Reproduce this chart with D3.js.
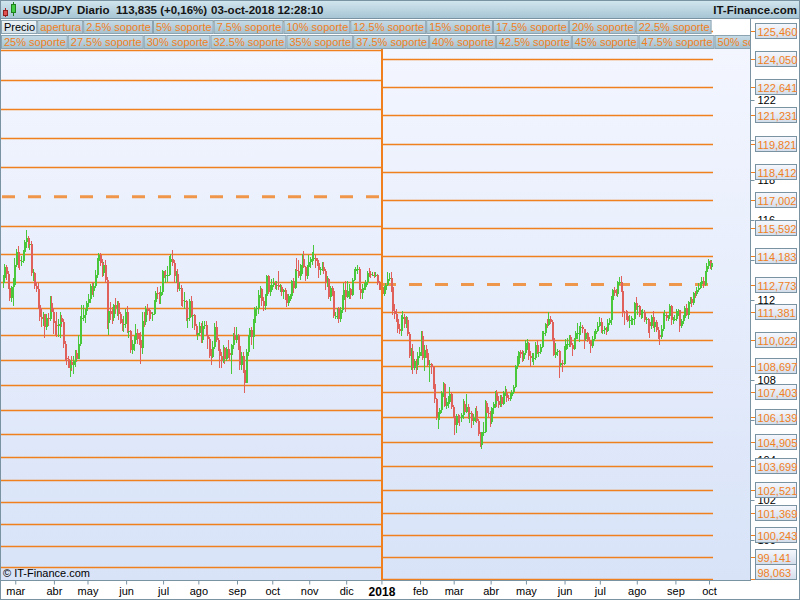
<!DOCTYPE html>
<html><head><meta charset="utf-8">
<script src="https://cdn.jsdelivr.net/npm/d3@7"></script>
<style>
html,body{margin:0;padding:0;background:#fff;}
svg{display:block;font-family:"Liberation Sans",Arial,sans-serif;}
</style></head><body>
<svg id="chart" width="800" height="600"></svg>
<script>
// ---------------- DATA ----------------
const firstDay = [2017, 1, 20];   // 20 feb 2017 (weekdays only)
const lastDay  = [2018, 9, 3];    // 03 oct 2018
const monthNames = ["ene","feb","mar","abr","may","jun","jul","ago","sep","oct","nov","dic"];

const opens = [
112.85,113.10,113.65,113.30,112.60, 112.10,112.65,112.75,113.75,114.40, 114.00,113.95,113.95,114.40,114.90,
115.10,114.75,114.80,113.35,113.35, 112.70,112.55,111.75,111.15,111.05, 111.30,110.65,111.10,111.05,111.85,
111.40,110.85,110.75,110.70,110.80, 111.10,110.90,109.80,109.10,109.05, 108.60,108.90,108.75,108.95,109.35,
109.05,109.80,111.05,111.10,111.25, 111.45,111.85,112.05,112.70,112.45, 112.70,113.25,113.95,114.25,113.85,
113.35,113.75,113.00,110.85,111.45, 111.30,111.10,111.75,111.60,111.85, 111.30,110.85,110.80,110.80,111.40,
110.40,110.45,109.50,109.80,110.00, 110.35,110.05,110.00,109.60,110.95, 110.90,111.55,111.45,111.40,111.30,
111.30,111.90,112.35,112.30,112.20, 112.40,113.45,113.25,113.25,113.25, 113.90,114.05,113.85,113.20,113.30,
112.55,112.60,112.00,111.95,111.95, 111.10,111.10,111.95,111.25,111.25, 110.70,110.25,110.35,110.70,110.00,
110.70,110.75,110.25,110.05,109.20, 109.15,109.65,110.65,110.00,109.55, 109.20,108.95,109.60,109.05,109.55,
109.35,109.25,109.75,110.25,110.00, 110.25,109.70,108.75,109.20,108.50, 107.85,109.40,110.15,110.50,110.15,
110.85,111.55,111.60,112.25,112.55, 111.95,111.70,112.20,113.20,112.40, 112.50,112.75,112.85,112.75,112.75,
112.65,112.65,112.40,112.50,112.30, 111.85,112.20,112.20,112.95,112.60, 113.50,113.45,113.20,113.75,114.05,
113.65,113.20,113.65,113.90,114.05, 114.05,114.10,113.95,113.85,113.50, 113.55,113.65,113.45,112.90,113.05,
112.15,112.60,112.45,111.20,111.20, 111.55,111.05,111.50,112.00,112.50, 112.15,112.45,112.55,112.25,113.00,
113.45,113.55,113.55,112.55,112.35, 112.60,112.65,112.90,113.35,113.30, 113.25,113.25,113.20,113.25,112.85,
112.70,112.65,112.30,112.50,112.75, 113.05,113.10,112.65,111.45,111.30, 111.05,110.55,110.45,111.05,111.15,
110.80,111.00,110.30,109.20,109.45, 108.60,108.95,108.75,109.20,109.40, 110.20,109.10,109.50,109.35,108.75,
108.80,108.65,107.80,107.05,106.15, 106.30,106.50,107.35,107.80,106.70, 106.90,106.90,107.30,106.65,106.20,
105.75,106.20,106.15,106.10,106.25, 106.80,106.40,106.65,106.30,106.35, 105.95,106.10,106.45,105.95,105.30,
104.75,105.40,105.40,106.85,106.35, 106.30,105.90,106.60,106.80,107.35, 106.95,106.75,107.15,106.80,107.35,
107.35,107.10,107.05,107.20,107.40, 107.65,108.70,108.80,109.40,109.30, 109.05,109.35,109.85,109.85,109.20,
109.10,109.10,109.10,109.75,109.40, 109.40,109.65,110.35,110.35,110.80, 110.75,111.05,110.90,110.10,109.25,
109.40,109.45,108.75,108.85,108.80, 109.50,109.80,109.80,110.15,109.75, 109.55,110.05,110.35,110.35,110.60,
110.65,110.55,110.05,110.35,110.00, 109.95,109.70,110.05,110.30,110.45, 110.70,110.90,110.50,110.50,110.60,
110.45,110.85,111.00,112.00,112.50, 112.35,112.30,112.90,112.90,112.45, 111.40,111.35,111.20,110.95,111.00,
111.05,111.05,111.85,111.70,111.70, 111.25,111.40,111.40,111.00,111.05, 110.90,110.70,111.15,110.65,110.90,
110.50,110.25,110.15,110.55,111.25, 111.25,111.10,111.20,111.70,111.00, 111.05,111.05,111.45,111.50,110.70,
110.95,111.10,111.60,111.25,111.90, 112.05,111.85,112.35,112.30,112.50, 112.60,112.80,112.95,112.75,113.40,
113.70,113.95,113.65];

const highs = [
113.25,113.80,113.75,113.45,112.75, 112.70,113.10,114.10,114.55,114.70, 114.20,114.20,114.50,115.00,115.50,
115.20,115.05,114.95,113.55,113.40, 112.90,112.85,111.85,111.60,111.40, 111.30,111.30,111.35,112.20,112.20,
111.60,110.95,111.40,111.05,111.40, 111.25,111.05,109.95,109.40,109.20, 109.00,109.20,109.20,109.50,109.50,
110.25,111.20,111.75,111.75,111.55, 111.95,112.30,112.80,112.90,112.85, 113.50,114.10,114.35,114.35,114.05,
113.90,114.00,113.15,111.70,111.90, 111.65,111.80,112.10,111.95,111.95, 111.40,111.05,111.20,111.55,111.70,
110.60,110.50,110.00,110.20,110.80, 110.55,110.35,110.40,111.40,111.40, 111.70,111.80,111.60,111.50,111.40,
112.00,112.45,112.65,112.40,112.70, 113.50,113.45,113.50,113.70,114.20, 114.30,114.50,114.00,113.45,113.55,
112.90,112.75,112.35,112.40,112.00, 111.45,112.05,112.20,111.60,111.30, 110.80,110.70,110.90,110.85,110.95,
110.95,110.95,110.30,110.15,109.55, 109.95,110.85,110.95,110.10,109.60, 109.40,109.75,109.65,109.65,110.00,
109.55,109.80,110.35,110.65,110.65, 110.30,109.85,109.40,109.40,108.55, 109.55,110.25,110.60,110.65,111.05,
111.65,111.70,112.50,112.70,112.60, 112.15,112.30,113.25,113.25,112.75, 113.05,113.10,112.95,112.95,113.45,
112.80,112.75,112.55,112.60,112.35, 112.30,112.30,113.00,113.10,113.55, 114.10,114.00,113.80,114.30,114.45,
113.70,113.75,114.25,114.15,114.40, 114.75,114.25,114.10,114.00,113.65, 113.90,113.90,113.55,113.20,113.10,
112.70,112.70,112.55,111.40,111.60, 111.65,111.65,112.25,112.85,112.95, 112.95,112.80,112.60,113.10,113.55,
113.65,113.75,113.65,112.80,112.80, 112.85,113.00,113.45,113.60,113.45, 113.40,113.40,113.40,113.30,112.95,
112.75,112.70,112.70,112.85,113.40, 113.35,113.40,112.75,111.80,111.55, 111.20,110.80,111.25,111.45,111.30,
111.20,111.15,110.40,109.60,109.80, 109.05,109.05,109.40,109.65,110.45, 110.45,109.75,109.75,109.55,109.00,
108.85,108.70,107.90,107.10,106.40, 106.60,107.45,107.90,107.85,107.10, 107.20,107.65,107.40,106.75,106.25,
106.30,106.30,106.25,106.35,107.05, 106.95,107.30,106.80,106.45,106.45, 106.30,106.60,106.70,106.05,105.40,
105.40,105.90,107.00,106.95,106.65, 106.45,106.65,106.90,107.45,107.50, 107.20,107.25,107.25,107.45,107.70,
107.55,107.25,107.35,107.50,107.75, 108.75,109.20,109.45,109.50,109.50, 109.45,110.00,110.05,109.90,109.45,
109.35,109.35,109.90,110.00,109.55, 109.80,110.45,110.45,110.85,111.05, 111.40,111.20,111.00,110.20,109.85,
109.55,109.50,109.20,109.00,109.70, 110.05,110.10,110.25,110.25,109.85, 110.10,110.45,110.85,110.70,110.90,
110.75,110.55,110.45,110.40,110.15, 110.00,110.20,110.45,110.55,110.90, 111.15,111.10,110.65,110.70,110.65,
111.05,111.10,112.20,112.55,112.65, 112.55,112.95,113.15,113.20,112.60, 111.45,111.50,111.45,111.25,111.20,
111.10,111.90,112.15,111.80,111.75, 111.50,111.55,111.50,111.15,111.10, 110.95,111.25,111.45,111.00,111.00,
110.65,110.45,110.75,111.35,111.50, 111.35,111.25,111.80,111.75,111.15, 111.25,111.55,111.55,111.50,111.05,
111.25,111.70,111.80,111.95,112.15, 112.15,112.40,112.45,112.65,112.85, 112.90,113.15,113.15,113.45,113.85,
114.05,114.00,114.00];

const lows = [
112.60,112.95,113.00,112.55,111.95, 111.90,111.70,112.70,113.65,113.60, 113.50,113.70,113.85,114.30,114.60,
114.60,114.50,113.20,112.95,112.55, 112.40,111.55,110.95,110.65,110.70, 110.10,110.50,110.70,110.95,111.20,
110.30,110.25,110.15,110.15,110.10, 110.65,109.60,108.95,108.75,108.60, 108.15,108.45,108.30,108.65,108.90,
109.05,109.70,110.90,110.95,110.85, 111.25,111.65,111.85,112.25,112.15, 112.60,113.10,113.60,113.70,113.15,
113.20,112.85,110.55,110.25,111.00, 110.80,110.95,111.30,111.20,111.00, 110.80,110.45,110.40,110.60,110.35,
110.10,109.35,109.30,109.45,109.85, 109.80,109.75,108.80,109.30,110.65, 110.75,111.25,110.95,111.05,110.95,
111.25,111.45,112.05,111.80,111.80, 112.25,113.10,112.85,112.90,113.20, 113.80,113.70,112.85,112.85,112.40,
112.45,111.70,111.65,111.55,110.95, 110.60,110.95,111.15,110.60,110.50, 110.25,110.00,110.20,109.85,109.85,
110.55,110.20,109.55,109.10,108.75, 109.10,109.55,109.90,109.45,108.60, 108.60,108.85,108.80,108.95,109.10,
109.00,108.30,109.55,109.90,109.85, 109.50,108.50,108.50,108.35,107.35, 107.85,109.20,109.80,109.75,109.55,
110.75,111.20,111.30,112.10,111.70, 111.45,111.50,112.15,112.30,112.20, 112.45,112.65,112.55,112.50,112.50,
112.40,112.20,112.05,112.00,111.65, 111.70,111.95,112.05,112.35,112.55, 113.35,113.10,113.00,113.30,113.60,
112.95,113.05,113.55,113.60,113.75, 113.95,113.60,113.70,113.10,113.25, 113.45,113.30,112.50,112.65,112.05,
111.95,112.20,111.10,111.05,111.05, 110.85,110.90,111.35,111.95,111.40, 112.10,112.05,112.05,112.20,112.95,
113.30,113.30,112.50,112.05,112.05, 112.50,112.50,112.75,113.15,113.10, 113.20,113.10,113.15,112.75,112.50,
112.50,112.05,112.20,112.35,112.70, 112.95,112.40,111.25,111.05,110.90, 110.35,110.30,110.20,110.85,110.60,
110.60,110.20,109.10,108.50,108.30, 108.50,108.30,108.50,109.10,109.20, 109.00,108.45,109.10,108.70,107.90,
108.30,107.55,106.85,106.00,105.55, 106.00,106.35,107.15,106.65,106.55, 106.60,106.80,106.55,106.10,105.25,
105.35,105.85,105.70,105.90,106.05, 106.30,106.35,106.05,105.85,105.60, 105.75,105.90,105.85,105.20,104.65,
104.55,105.20,105.35,106.25,106.10, 105.65,105.80,106.30,106.60,106.65, 106.60,106.65,106.65,106.75,107.20,
106.90,106.95,106.95,107.15,107.30, 107.60,108.55,108.70,109.10,108.90, 108.95,109.25,109.50,109.00,108.65,
108.90,108.75,109.00,109.30,109.15, 109.30,109.60,109.95,110.20,110.60, 110.70,110.80,109.95,109.20,109.10,
109.20,108.10,108.65,108.40,108.75, 109.45,109.55,109.65,109.65,109.20, 109.50,109.95,110.05,109.90,110.25,
110.35,109.55,109.95,109.90,109.80, 109.35,109.60,109.95,110.20,110.40, 110.65,110.35,110.30,110.30,110.25,
110.40,110.75,110.75,111.90,112.20, 112.20,112.15,112.75,112.40,111.15, 110.75,111.00,110.90,110.60,110.75,
110.75,110.75,111.50,111.25,111.15, 111.05,111.10,110.90,110.80,110.35, 110.10,110.55,110.60,110.40,110.40,
110.05,109.75,110.05,110.45,111.10, 110.95,110.95,111.05,110.75,110.80, 110.95,110.95,111.20,110.40,110.60,
110.80,111.00,111.20,111.05,111.80, 111.65,111.75,112.10,112.20,112.40, 112.55,112.70,112.60,112.70,113.30,
113.55,113.55,113.50];

const closes = [
113.10,113.65,113.30,112.60,112.10, 112.65,112.75,113.75,114.40,114.00, 113.95,113.95,114.40,114.90,115.10,
114.75,114.80,113.35,113.35,112.70, 112.55,111.75,111.15,111.05,111.30, 110.65,111.10,111.05,111.85,111.40,
110.85,110.75,110.70,110.80,111.10, 110.90,109.80,109.10,109.05,108.60, 108.90,108.75,108.95,109.35,109.05,
109.80,111.05,111.10,111.25,111.45, 111.85,112.05,112.70,112.45,112.70, 113.25,113.95,114.25,113.85,113.35,
113.75,113.00,110.85,111.45,111.30, 111.10,111.75,111.60,111.85,111.30, 110.85,110.80,110.80,111.40,110.40,
110.45,109.50,109.80,110.00,110.35, 110.05,110.00,109.60,110.95,110.90, 111.55,111.45,111.40,111.30,111.30,
111.90,112.35,112.30,112.20,112.40, 113.45,113.25,113.25,113.25,113.90, 114.05,113.85,113.20,113.30,112.55,
112.60,112.00,111.95,111.95,111.10, 111.10,111.95,111.25,111.25,110.70, 110.25,110.35,110.70,110.00,110.70,
110.75,110.25,110.05,109.20,109.15, 109.65,110.65,110.00,109.55,109.20, 108.95,109.60,109.05,109.55,109.35,
109.25,109.75,110.25,110.00,110.25, 109.70,108.75,109.20,108.50,107.85, 109.40,110.15,110.50,110.15,110.85,
111.55,111.60,112.25,112.55,111.95, 111.70,112.20,113.20,112.40,112.50, 112.75,112.85,112.75,112.75,112.65,
112.65,112.40,112.50,112.30,111.85, 112.20,112.20,112.95,112.60,113.50, 113.45,113.20,113.75,114.05,113.65,
113.20,113.65,113.90,114.05,114.05, 114.10,113.95,113.85,113.50,113.55, 113.65,113.45,112.90,113.05,112.15,
112.60,112.45,111.20,111.20,111.55, 111.05,111.50,112.00,112.50,112.15, 112.45,112.55,112.25,113.00,113.45,
113.55,113.55,112.55,112.35,112.60, 112.65,112.90,113.35,113.30,113.25, 113.25,113.20,113.25,112.85,112.70,
112.65,112.30,112.50,112.75,113.05, 113.10,112.65,111.45,111.30,111.05, 110.55,110.45,111.05,111.15,110.80,
111.00,110.30,109.20,109.45,108.60, 108.95,108.75,109.20,109.40,110.20, 109.10,109.50,109.35,108.75,108.80,
108.65,107.80,107.05,106.15,106.30, 106.50,107.35,107.80,106.70,106.90, 106.90,107.30,106.65,106.20,105.75,
106.20,106.15,106.10,106.25,106.80, 106.40,106.65,106.30,106.35,105.95, 106.10,106.45,105.95,105.30,104.75,
105.40,105.40,106.85,106.35,106.30, 105.90,106.60,106.80,107.35,106.95, 106.75,107.15,106.80,107.35,107.35,
107.10,107.05,107.20,107.40,107.65, 108.70,108.80,109.40,109.30,109.05, 109.35,109.85,109.85,109.20,109.10,
109.10,109.10,109.75,109.40,109.40, 109.65,110.35,110.35,110.80,110.75, 111.05,110.90,110.10,109.25,109.40,
109.45,108.75,108.85,108.80,109.50, 109.80,109.80,110.15,109.75,109.55, 110.05,110.35,110.35,110.60,110.65,
110.55,110.05,110.35,110.00,109.95, 109.70,110.05,110.30,110.45,110.70, 110.90,110.50,110.50,110.60,110.45,
110.85,111.00,112.00,112.50,112.35, 112.30,112.90,112.90,112.45,111.40, 111.35,111.20,110.95,111.00,111.05,
111.05,111.85,111.70,111.70,111.25, 111.40,111.40,111.00,111.05,110.90, 110.70,111.15,110.65,110.90,110.50,
110.25,110.15,110.55,111.25,111.25, 111.10,111.20,111.70,111.00,111.05, 111.05,111.45,111.50,110.70,110.95,
111.10,111.60,111.25,111.90,112.05, 111.85,112.35,112.30,112.50,112.60, 112.80,112.95,112.75,113.40,113.70,
113.95,113.65,113.85];

// yearly opening levels and 1.25% steps (support / resistance)
const open2017 = 117.160;
const levels2017 = [125.947,124.483,123.018,121.554,120.089,118.625,
  115.714,114.302,112.925,111.581,110.268,108.986,107.733,106.509,105.312,104.142,102.998,101.878,100.783,99.711,98.661];
const open2018 = 112.773;
const levels2018 = [125.460,124.050,122.641,121.231,119.821,118.412,117.002,115.592,114.183,
  111.381,110.022,108.697,107.403,106.139,104.905,103.699,102.521,101.369,100.243,99.141,98.063];

const priceTicks = [100,102,104,106,108,110,112,114,116,118,120,122];
const priceTickLabels = [100,102,104,108,112,116,118,120,122]; // those not fully covered by the level boxes
const legendRow1 = ["Precio","apertura","2.5% soporte","5% soporte","7.5% soporte","10% soporte","12.5% soporte","15% soporte","17.5% soporte","20% soporte","22.5% soporte"];
const legendRow2 = ["25% soporte","27.5% soporte","30% soporte","32.5% soporte","35% soporte","37.5% soporte","40% soporte","42.5% soporte","45% soporte","47.5% soporte","50% soporte"];
const headerParts = [["USD/JPY",23],["Diario",77],["113,835 (+0,16%)",116],["03-oct-2018 12:28:10",211]];

// ---------------- CHART ----------------
const W = 800, H = 600;
const plot = {l: 1, r: 750, t: 49, b: 580};
const ORANGE = "#f0801e", GREEN = "#4ac83c", RED = "#e0605c", FRAME = "#7a93a3";

const days = d3.timeDay.range(new Date(firstDay[0], firstDay[1], firstDay[2]),
                              new Date(lastDay[0], lastDay[1], lastDay[2] + 1))
               .filter(d => d.getDay() !== 0 && d.getDay() !== 6);
const n = Math.min(days.length, closes.length);

const svg = d3.select("#chart");
const defs = svg.append("defs");
function grad(id, c1, c2){
  const g = defs.append("linearGradient").attr("id", id).attr("x1",0).attr("y1",0).attr("x2",0).attr("y2",1);
  g.append("stop").attr("offset","0%").attr("stop-color",c1);
  g.append("stop").attr("offset","100%").attr("stop-color",c2);
}
grad("gPlot", "#f3f6ff", "#d8e3f8");
grad("gHead", "#d3e7ef", "#a7c5d4");
grad("gLeg", "#c6dce7", "#a6c1cf");
grad("gPrecio", "#eef4f7", "#d2e0e8");
grad("gLab", "#f6f8fd", "#d3ddeb");

svg.append("rect").attr("width",W).attr("height",H).attr("fill","#fff");

// scales
const x = d3.scaleLinear().domain([0, 445]).range([3.5, 751]);
const y = d3.scaleLinear().domain([98.0, 124.55]).range([plot.b, plot.t]);

// plot background
svg.append("rect").attr("x",plot.l).attr("y",plot.t).attr("width",plot.r-plot.l).attr("height",plot.b-plot.t).attr("fill","url(#gPlot)");

defs.append("clipPath").attr("id","clipPlot").append("rect")
  .attr("x",plot.l).attr("y",plot.t).attr("width",plot.r-plot.l).attr("height",plot.b-plot.t);
defs.append("clipPath").attr("id","clipLev").append("rect")
  .attr("x",plot.l).attr("y",18).attr("width",plot.r-plot.l).attr("height",plot.b-18);

// level lines
const xSplit = 382;
const lev = svg.append("g").attr("clip-path","url(#clipLev)");
lev.selectAll("line.l17").data(levels2017).join("line")
  .attr("x1", plot.l).attr("x2", xSplit - 1)
  .attr("y1", d => Math.round(y(d)) + 0.5).attr("y2", d => Math.round(y(d)) + 0.5)
  .attr("stroke", ORANGE).attr("stroke-width", 1.4);
lev.selectAll("line.l18").data(levels2018).join("line")
  .attr("x1", xSplit + 1).attr("x2", 713)
  .attr("y1", d => Math.round(y(d)) + 0.5).attr("y2", d => Math.round(y(d)) + 0.5)
  .attr("stroke", ORANGE).attr("stroke-width", 1.4);
// opening (dashed) lines
lev.append("line").attr("x1", 2).attr("x2", xSplit - 1)
  .attr("y1", y(open2017)).attr("y2", y(open2017))
  .attr("stroke", ORANGE).attr("stroke-width", 3).attr("stroke-opacity", 0.8).attr("stroke-dasharray","13,13");
lev.append("line").attr("x1", xSplit + 1).attr("x2", 713)
  .attr("y1", y(open2018)).attr("y2", y(open2018))
  .attr("stroke", ORANGE).attr("stroke-width", 3).attr("stroke-opacity", 0.8).attr("stroke-dasharray","13,13");

// candles
const cg = svg.append("g").attr("clip-path","url(#clipPlot)");
const idx = d3.range(n);
const col = i => closes[i] >= opens[i] ? GREEN : RED;
cg.selectAll("line.w").data(idx).join("line")
  .attr("x1", i => Math.round(x(i)) - 0.5).attr("x2", i => Math.round(x(i)) - 0.5)
  .attr("y1", i => y(highs[i])).attr("y2", i => y(lows[i]))
  .attr("stroke", col).attr("stroke-width", 1);
cg.selectAll("rect.b").data(idx).join("rect")
  .attr("x", i => Math.round(x(i)) - 1).attr("width", 2)
  .attr("y", i => y(Math.max(opens[i], closes[i])))
  .attr("height", i => Math.max(1, Math.abs(y(opens[i]) - y(closes[i]))))
  .attr("fill", col);

// year separator
svg.append("line").attr("x1", xSplit).attr("x2", xSplit).attr("y1", plot.t).attr("y2", plot.b)
  .attr("stroke", ORANGE).attr("stroke-width", 2);

// copyright
svg.append("text").attr("x", 3).attr("y", 577).attr("font-size", 11).attr("fill", "#000").text("© IT-Finance.com");

// frame of plot
svg.append("line").attr("x1",0.5).attr("x2",0.5).attr("y1",18).attr("y2",600).attr("stroke",FRAME);
svg.append("line").attr("x1",750.5).attr("x2",750.5).attr("y1",18).attr("y2",plot.b+1).attr("stroke",FRAME);

// bottom axis
const monthIdx = idx.filter(i => i > 0 && days[i].getMonth() !== days[i-1].getMonth());
const xAxis = d3.axisBottom(x).tickValues(monthIdx).tickSize(4).tickPadding(3)
  .tickFormat(i => days[i].getMonth() === 0 ? String(days[i].getFullYear()) : monthNames[days[i].getMonth()]);
const gx = svg.append("g").attr("transform", `translate(0,${plot.b + 0.5})`).call(xAxis);
gx.select(".domain").attr("d", `M0,0H${plot.r}`).attr("stroke", FRAME);
gx.selectAll(".tick line").attr("stroke", FRAME);
gx.selectAll(".tick text").attr("font-size", 11).attr("fill", "#000")
  .attr("font-family", '"Liberation Sans",Arial,sans-serif')
  .filter(i => days[i].getMonth() === 0).attr("font-weight", "bold").attr("font-size", 12);

// right axis (black ticks)
const yAxis = d3.axisRight(y).tickValues(priceTicks).tickSize(4).tickPadding(3)
  .tickFormat(d => priceTickLabels.includes(d) ? d3.format("d")(d) : "");
const gy = svg.append("g").attr("transform", `translate(${plot.r + 0.5},0)`).call(yAxis);
gy.select(".domain").remove();
gy.selectAll(".tick line").attr("stroke", FRAME);
gy.selectAll(".tick text").attr("font-size", 11).attr("fill", "#000")
  .attr("font-family", '"Liberation Sans",Arial,sans-serif');

// orange level labels
const fmt = v => v.toFixed(3).replace(".", ",");
const labs = svg.append("g");
const allLabels = [...levels2018.slice(0, 9), open2018, ...levels2018.slice(9)];
allLabels.forEach(v => {
  const cy = Math.min(y(v), plot.b - 8);
  labs.append("line").attr("x1", 751).attr("x2", 756).attr("y1", Math.round(y(v)) + 0.5).attr("y2", Math.round(y(v)) + 0.5)
    .attr("stroke", ORANGE).attr("stroke-width", 1);
  labs.append("rect").attr("x", 755.5).attr("y", Math.round(cy - 8) + 0.5).attr("width", 41).attr("height", 15)
    .attr("fill", "url(#gLab)").attr("stroke", FRAME);
  labs.append("text").attr("x", 757.5).attr("y", Math.round(cy - 8) + 12.5).attr("font-size", 11)
    .attr("fill", ORANGE).text(fmt(v));
});

// header
svg.append("rect").attr("x",0).attr("y",0).attr("width",W).attr("height",18).attr("fill","url(#gHead)");
svg.append("line").attr("x1",0).attr("x2",W).attr("y1",18.5).attr("y2",18.5).attr("stroke",FRAME);
const icon = svg.append("g");
icon.append("line").attr("x1",5.5).attr("x2",5.5).attr("y1",8).attr("y2",17).attr("stroke","#b02020");
icon.append("rect").attr("x",3.5).attr("y",10.5).attr("width",4).attr("height",5).attr("fill","#e05050").attr("stroke","#902020");
icon.append("line").attr("x1",13.5).attr("x2",13.5).attr("y1",2).attr("y2",16).attr("stroke","#208020");
icon.append("rect").attr("x",11.5).attr("y",4.5).attr("width",4).attr("height",8).attr("fill","#44cc44").attr("stroke","#208020");
headerParts.forEach(([t, px]) => {
  svg.append("text").attr("x", px).attr("y", 14).attr("font-size", 11.5).attr("font-weight","bold")
    .attr("fill","#141414").text(t);
});
svg.append("text").attr("x", 797).attr("y", 14).attr("text-anchor","end").attr("font-size", 11.5)
  .attr("font-weight","bold").attr("fill","#141414").text("IT-Finance.com");

// legend rows
defs.append("clipPath").attr("id","clipLeg").append("rect").attr("x",0).attr("y",18).attr("width",750).attr("height",31);
const leg = svg.append("g").attr("clip-path","url(#clipLeg)").attr("font-size", 11);
function legendRow(items, top, withPrecio){
  let cx = 1;
  items.forEach((t, k) => {
    const isPrecio = withPrecio && k === 0;
    const txt = leg.append("text").attr("x", cx + 3).attr("y", top + 12).attr("fill", isPrecio ? "#000" : ORANGE).text(t);
    const w = txt.node().getComputedTextLength() + 5;
    leg.insert("rect", "text").attr("x", cx + 0.5).attr("y", top + 1.5).attr("width", w - 1).attr("height", 13)
      .attr("fill", isPrecio ? "url(#gPrecio)" : "url(#gLeg)").attr("stroke", "#8ca4b2");
    cx += w;
  });
  return cx;
}
legendRow(legendRow1, 19, true);
legendRow(legendRow2, 34, false);

// outer frame
svg.append("rect").attr("x",0.5).attr("y",0.5).attr("width",W-1).attr("height",H-1).attr("fill","none").attr("stroke",FRAME);
</script>
</body></html>
